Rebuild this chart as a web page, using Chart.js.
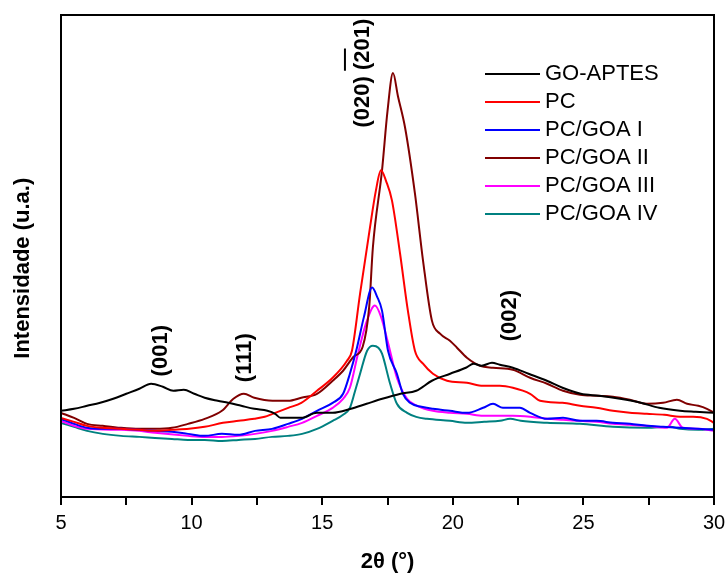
<!DOCTYPE html>
<html>
<head>
<meta charset="utf-8">
<script src="https://cdn.jsdelivr.net/npm/chart.js@4.4.1/dist/chart.umd.min.js"></script>
<style>
  html, body { margin: 0; padding: 0; background: #fff; }
  #wrap { width: 727px; height: 573px; }
</style>
</head>
<body>
<div id="wrap"><canvas id="chartXrd" width="727" height="573"></canvas></div>
<script>
// 2theta (deg) / intensity (a.u.)
const angGoAptes = [5, 5.5, 6, 6.5, 7, 7.5, 8, 8.45, 8.9, 9.3, 9.7, 10.1, 10.5, 11, 11.4, 11.9, 12.4, 12.9, 13.2, 13.4, 14.2, 14.8, 15.4, 16.1, 16.7, 17.3, 18.0, 18.6, 19.2, 19.9, 20.5, 20.8, 21.1, 21.5, 21.8, 22.3, 22.9, 23.6, 24.2, 24.9, 25.6, 26.4, 27.2, 27.9, 28.7, 29.3, 30];
const intGoAptes = [86, 88, 91, 94, 98, 103, 108, 113, 110, 106, 107, 103, 99, 96, 94, 91, 88, 86, 83, 79, 79, 84, 84, 88, 93, 98, 103, 106, 116, 123, 129, 133, 131, 134, 132, 129, 123, 116, 109, 103, 101, 98, 94, 89, 86, 85, 84];

const angPc = [5, 5.5, 6, 6.6, 7.3, 8, 8.6, 9.25, 9.9, 10.5, 11.2, 11.8, 12.4, 12.8, 13.1, 13.7, 14.2, 14.8, 15.4, 15.95, 16.14, 16.45, 16.83, 17.05, 17.25, 17.45, 17.67, 17.98, 18.28, 18.55, 18.86, 19.24, 19.78, 20.54, 21.16, 21.8, 22.3, 22.96, 23.34, 24.2, 24.87, 25.5, 26.13, 26.78, 27.43, 28.1, 28.7, 29.2, 29.73, 30];
const intPc = [79, 75, 71, 69, 68, 67, 66, 67, 68, 70, 74, 76, 78, 80, 83, 89, 94, 106, 119, 136, 146, 203, 269, 305, 326, 315, 296, 243, 186, 146, 133, 123, 116, 114, 111, 111, 109, 103, 96, 94, 91, 89, 86, 84, 83, 82, 80, 80, 78, 74];

const angGoa1 = [5, 5.5, 6, 6.6, 7.3, 8, 8.6, 9.25, 9.86, 10.5, 11.16, 11.78, 12.43, 13.08, 13.69, 14.23, 14.8, 15.4, 15.8, 16.06, 16.33, 16.6, 16.91, 17.1, 17.29, 17.52, 17.86, 18.09, 18.36, 18.8, 19.24, 19.89, 20.54, 21.16, 21.54, 21.92, 22.57, 22.96, 23.61, 24.22, 24.87, 25.5, 26.13, 26.78, 27.43, 28.05, 28.7, 29.35, 30];
const intGoa1 = [78, 73, 69, 68, 68, 67, 66, 65, 63, 61, 63, 62, 66, 68, 73, 78, 86, 94, 103, 123, 149, 180, 209, 200, 186, 146, 123, 103, 94, 90, 88, 86, 84, 89, 93, 89, 89, 84, 78, 79, 76, 76, 74, 73, 71, 70, 69, 68, 67];

const angGoa2 = [5, 5.5, 6, 6.6, 7.3, 8, 8.6, 9.25, 9.86, 10.5, 11.16, 11.6, 12.0, 12.4, 13.1, 13.7, 14.2, 14.8, 15.4, 15.8, 16.2, 16.55, 16.8, 16.94, 17.29, 17.5, 17.71, 17.9, 18.17, 18.55, 18.86, 19.2, 19.51, 19.89, 20.16, 20.54, 21.04, 21.54, 22.3, 22.96, 23.61, 24.22, 24.87, 25.5, 26.13, 26.78, 27.43, 28.05, 28.58, 28.97, 29.4, 29.73, 30];
const intGoa2 = [84, 79, 73, 71, 69, 68, 68, 69, 73, 78, 86, 98, 103, 99, 96, 96, 99, 103, 116, 126, 140, 150, 190, 249, 326, 385, 423, 400, 369, 303, 236, 176, 163, 156, 149, 139, 131, 129, 127, 119, 113, 106, 102, 101, 100, 97, 93, 94, 97, 93, 91, 88, 84];

const angGoa3 = [5, 5.5, 6, 7.3, 8, 8.6, 9.86, 10.5, 11.16, 11.8, 12.43, 13.08, 13.69, 14.23, 14.8, 15.4, 15.8, 16.06, 16.37, 16.7, 17.02, 17.25, 17.52, 17.86, 18.25, 18.63, 19.24, 19.89, 20.54, 21.16, 21.81, 22.3, 22.96, 23.61, 24.22, 24.87, 25.5, 26.13, 26.78, 27.43, 28.2, 28.5, 28.81, 29.4, 30];
const intGoa3 = [76, 71, 68, 67, 66, 64, 61, 60, 60, 61, 63, 66, 70, 74, 81, 89, 98, 109, 143, 175, 191, 180, 154, 119, 98, 91, 86, 84, 83, 81, 81, 81, 80, 78, 77, 76, 75, 73, 72, 71, 69, 78, 69, 68, 66];

const angGoa4 = [5, 5.5, 6, 6.6, 7.3, 8, 8.6, 9.25, 9.86, 10.5, 11.16, 11.8, 12.43, 13.08, 13.69, 14.23, 14.8, 15.4, 15.8, 16.06, 16.25, 16.45, 16.72, 16.94, 17.15, 17.29, 17.6, 17.86, 18.25, 18.6, 19.01, 19.89, 20.54, 21.2, 21.81, 22.2, 22.6, 23.61, 24.87, 26.13, 27.43, 28.32, 28.7, 29.4, 30];
const intGoa4 = [74, 70, 66, 63, 61, 60, 59, 58, 57, 57, 56, 57, 58, 60, 61, 63, 68, 76, 82, 89, 105, 123, 146, 151, 149, 143, 113, 93, 84, 80, 78, 76, 74, 75, 76, 78, 76, 74, 73, 70, 69, 70, 68, 67, 68];

const seriesLabels = ['GO-APTES', 'PC', 'PC/GOA I', 'PC/GOA II', 'PC/GOA III', 'PC/GOA IV'];
const seriesColors = ['#000000', '#ff0000', '#0000ff', '#800000', '#ff00ff', '#008080'];
const seriesAngles = [angGoAptes, angPc, angGoa1, angGoa2, angGoa3, angGoa4];
const seriesInts = [intGoAptes, intPc, intGoa1, intGoa2, intGoa3, intGoa4];

// reflection labels
const peakTexts = ['(001)', '(111)', '(002)', '(020) (201)'];
const peakAngles = [8.83, 12.04, 22.19, 16.56];
const peakLevels = [146, 139, 181, 423];

const datasets = seriesLabels.map((label, i) => ({
    label: label,
    data: seriesAngles[i].map((a, j) => ({ x: a, y: seriesInts[i][j] })),
    borderColor: seriesColors[i],
    backgroundColor: seriesColors[i],
    borderWidth: 2,
    pointRadius: 0,
    fill: false,
    cubicInterpolationMode: 'monotone'
}));

const xrdDecor = {
    id: 'xrdDecor',
    afterDatasetsDraw(chart) {
        const { ctx, chartArea: a, scales } = chart;
        ctx.save();
        ctx.strokeStyle = '#000';
        ctx.lineWidth = 2;
        ctx.strokeRect(a.left, a.top, a.right - a.left, a.bottom - a.top);

        // legend inside the frame
        ctx.font = '22px "Liberation Sans", Arial, sans-serif';
        ctx.textBaseline = 'middle';
        ctx.textAlign = 'left';
        seriesLabels.forEach((label, i) => {
            const yy = a.top + 59 + i * 28;
            ctx.strokeStyle = seriesColors[i];
            ctx.beginPath();
            ctx.moveTo(a.left + 424, yy);
            ctx.lineTo(a.left + 479, yy);
            ctx.stroke();
            ctx.fillStyle = '#000';
            ctx.fillText(label, a.left + 484, yy);
        });

        // rotated reflection labels
        ctx.font = 'bold 22px "Liberation Sans", Arial, sans-serif';
        ctx.textAlign = 'center';
        peakTexts.forEach((t, i) => {
            const px = scales.x.getPixelForValue(peakAngles[i]);
            const py = scales.y.getPixelForValue(peakLevels[i]);
            ctx.save();
            ctx.translate(px, py);
            ctx.rotate(-Math.PI / 2);
            ctx.fillStyle = '#000';
            ctx.fillText(t, 0, 0);
            if (t.indexOf(' ') > 0) {
                // bar over the 2 of (201)
                const w = ctx.measureText(t).width;
                const s = -w / 2 + ctx.measureText('(020) (').width;
                const e = s + ctx.measureText('2').width;
                ctx.strokeStyle = '#000';
                ctx.lineWidth = 2;
                ctx.beginPath();
                ctx.moveTo(s - 8, -18);
                ctx.lineTo(e + 2, -18);
                ctx.stroke();
            }
            ctx.restore();
        });
        ctx.restore();
    }
};

Chart.defaults.font.family = '"Liberation Sans", Arial, sans-serif';
Chart.defaults.color = '#000';

const cont = document.getElementById('chartXrd');
const chartXrd = new Chart(cont, {
    type: 'line',
    data: { datasets: datasets },
    options: {
        responsive: false,
        animation: false,
        layout: { padding: { top: 15, right: 13, left: 0, bottom: 0 } },
        plugins: {
            legend: { display: false },
            tooltip: { enabled: false },
            title: { display: false }
        },
        scales: {
            x: {
                type: 'linear',
                min: 5,
                max: 30,
                ticks: {
                    stepSize: 2.5,
                    autoSkip: false,
                    maxRotation: 0,
                    padding: 6,
                    font: { family: '"Liberation Sans Narrow", "Liberation Sans", Arial, sans-serif', size: 20 },
                    callback: v => (v % 5 === 0 ? v : '')
                },
                grid: { drawOnChartArea: false, drawTicks: true, tickLength: 8, color: '#000', lineWidth: 2 },
                border: { display: true, color: '#000', width: 2 },
                title: {
                    display: true,
                    text: '2θ (°)',
                    font: { size: 22, weight: 'bold', lineHeight: 1 },
                    padding: { top: 0, bottom: 0 }
                },
                afterFit: scale => {
                    scale.height = 76;
                    scale.paddingLeft = 0;
                    scale.paddingRight = 0;
                }
            },
            y: {
                min: 0,
                max: 481,
                ticks: { display: false },
                grid: { display: false },
                border: { display: true, color: '#000', width: 2 },
                title: {
                    display: true,
                    text: 'Intensidade (u.a.)    ',
                    font: { size: 22, weight: 'bold', lineHeight: 1 },
                    padding: { top: 12, bottom: 0 }
                },
                afterFit: scale => { scale.width = 61; }
            }
        }
    },
    plugins: [xrdDecor]
});
</script>
</body>
</html>
